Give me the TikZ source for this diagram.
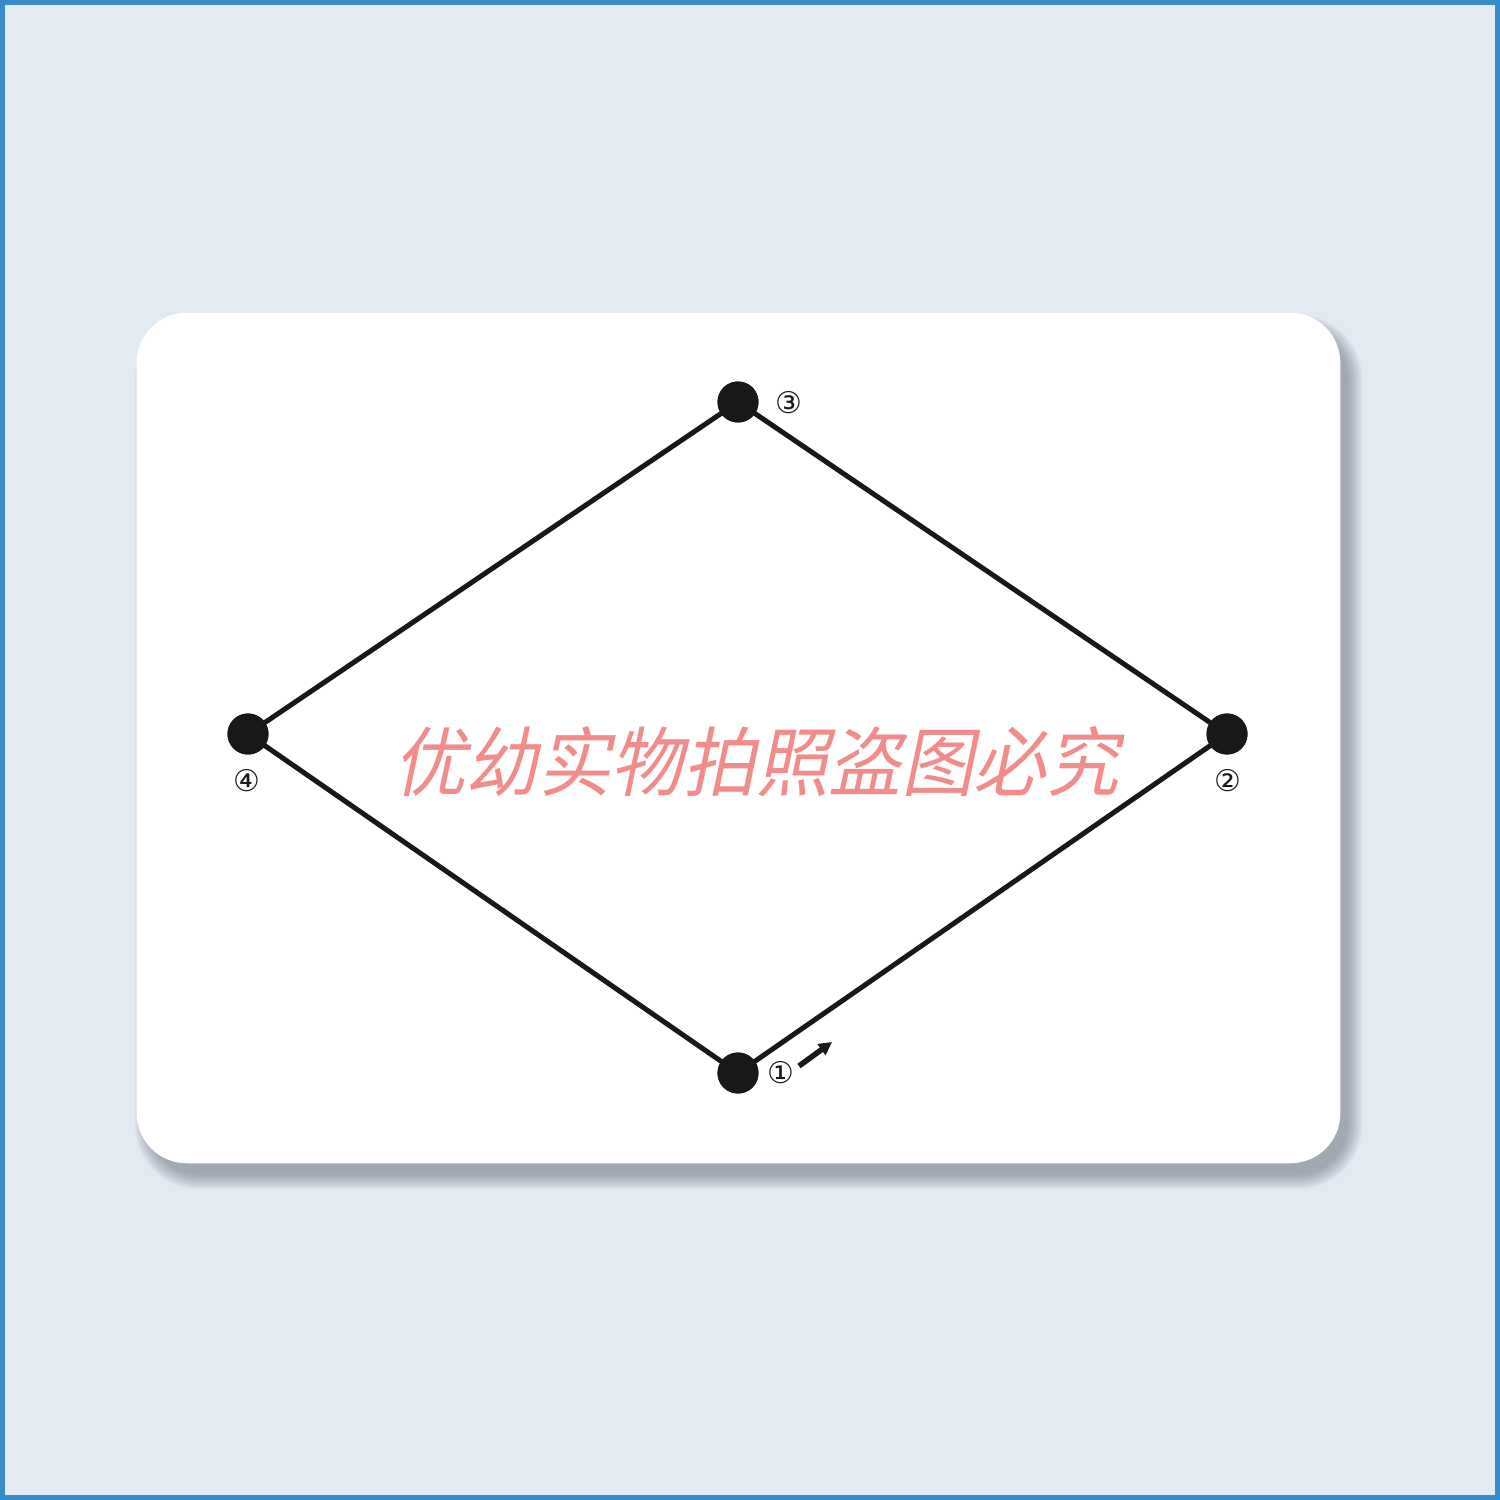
\documentclass[tikz,border=0pt]{standalone}
\usepackage{fontspec}
\usetikzlibrary{arrows.meta}
\newfontfamily\cjkwm[FakeSlant=0.22]{Noto Sans CJK SC}
\newfontfamily\symfont{DejaVu Sans}
\definecolor{bgblue}{RGB}{227,234,242}
\definecolor{frameblue}{RGB}{55,140,200}
\definecolor{dotblack}{RGB}{26,23,23}
\definecolor{wmpink}{RGB}{242,140,140}
\definecolor{shadowgray}{RGB}{90,95,105}
\tikzset{
  vdot/.style={circle,fill=dotblack,minimum size=0.41cm,inner sep=0pt},
  edge/.style={line width=0.05cm,draw=dotblack},
  lbl/.style={font=\symfont\fontsize{8.5}{9}\selectfont,inner sep=0pt,text=dotblack},
}
\begin{document}
\begin{tikzpicture}[x=0.01cm,y=-0.01cm]
\useasboundingbox (0,0) rectangle (1500,1500);
\fill[bgblue] (0,0) rectangle (1500,1500);
\draw[frameblue,line width=0.05cm] (2.5,2.5) rectangle (1497.5,1497.5);
% card shadow
\foreach \e in {14,12,10,8,6,4,2,0}{
  \fill[shadowgray,opacity=0.07,rounded corners={(0.5cm+\e*0.01cm)}]
    ({137+12-\e},{313+16-\e}) rectangle ({1340+8+\e},{1163+12+\e});
}
% card
\node[fill=white,rounded corners=0.5cm,minimum width=12.03cm,minimum height=8.5cm,inner sep=0pt]
  (card) at (738.5,738) {};
% vertices
\node[vdot] (v3) at (738,402) {};
\node[vdot] (v2) at (1227,734) {};
\node[vdot] (v1) at (738,1073) {};
\node[vdot] (v4) at (248,734) {};
\draw[edge] (v1.center) -- (v2.center) -- (v3.center) -- (v4.center) -- cycle;
\foreach \v in {v1,v2,v3,v4}{\node[vdot] at (\v) {};}
% labels
\node[lbl] (l3) at (789,403) {③};
\node[lbl] (l2) at (1228,781) {②};
\node[lbl] (l4) at (247,781) {④};
\node[lbl] (l1) at (781,1073) {①};
% direction arrow
\coordinate (a1) at (799,1066);
\coordinate (a2) at (832,1042);
\draw[line width=0.055cm,dotblack,-{Triangle[length=0.13cm,width=0.13cm]}] (a1) -- (a2);
% watermark
\node[text=wmpink,font=\cjkwm\fontsize{21.5}{23}\selectfont,inner sep=0pt,xscale=0.96] (wm) at (756,762) {优幼实物拍照盗图必究};
\end{tikzpicture}
\end{document}
